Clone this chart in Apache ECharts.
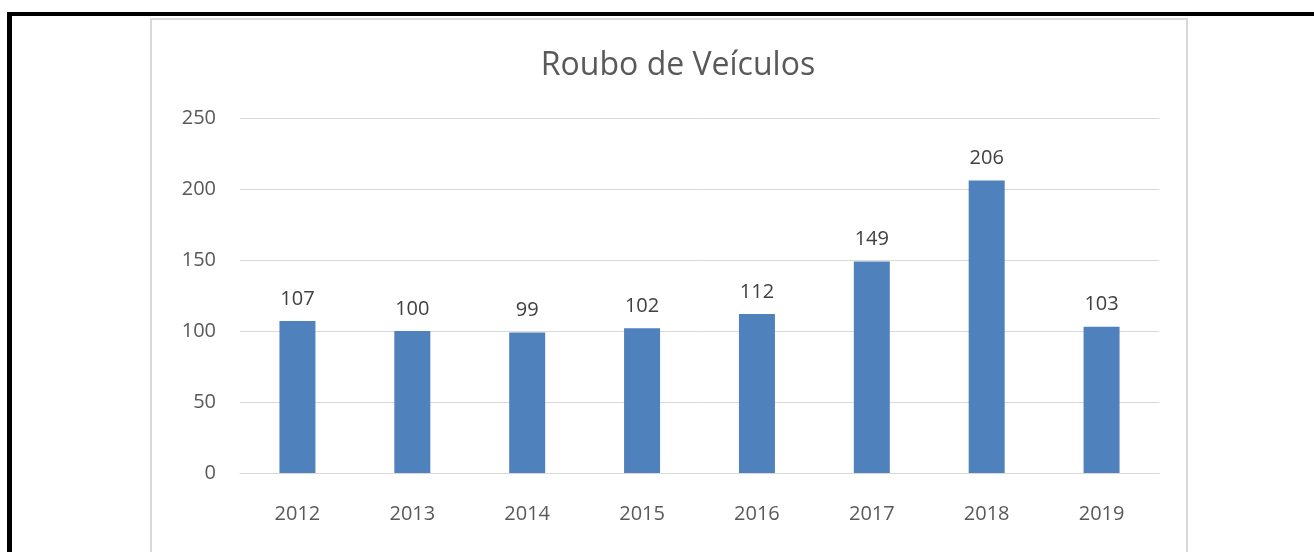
<!DOCTYPE html>
<html>
<head>
<meta charset="utf-8">
<script src="https://cdn.jsdelivr.net/npm/echarts@6/dist/echarts.min.js"></script>
<style>
    html, body {margin: 0; padding: 0; background: #fff;}
    .frame {position: absolute; left: 7px; top: 12px; width: 1320px; height: 560px;
        border-left: 5px solid #000; border-top: 4px solid #000;}
    .box {position: absolute; left: 150px; top: 18px; width: 1034px; height: 560px;
        border: 2px solid #d9d9d9;}
    #chart {position: absolute; left: 0; top: 0; width: 1314px; height: 552px;}
</style>
</head>
<body>
<div class="frame"></div>
<div class="box"></div>
<div id="chart"></div>
<script>
    const years = ['2012', '2013', '2014', '2015', '2016', '2017', '2018', '2019'];
    const roubos = [107, 100, 99, 102, 112, 149, 206, 103];
    const yTicks = [0, 50, 100, 150, 200, 250];

    const myChart = echarts.init(document.getElementById('chart'));
    myChart.setOption({
        animation: false,
        textStyle: {fontFamily: 'Open Sans'},
        title: {
            text: 'Roubo de Veículos',
            left: 673,
            textAlign: 'center',
            top: 45,
            textStyle: {fontSize: 32, fontWeight: 'normal', color: '#595959', fontFamily: 'Open Sans'}
        },
        grid: {left: 240, right: 155, top: 118, bottom: 79},
        xAxis: {
            type: 'category',
            data: years,
            axisTick: {show: false},
            axisLine: {lineStyle: {color: '#d9d9d9', width: 1}},
            axisLabel: {color: '#595959', fontSize: 20, margin: 31}
        },
        yAxis: {
            type: 'value',
            min: yTicks[0],
            max: yTicks[yTicks.length - 1],
            interval: 50,
            axisLine: {show: false},
            axisTick: {show: false},
            splitLine: {lineStyle: {color: '#d9d9d9'}},
            axisLabel: {color: '#595959', fontSize: 20, margin: 24}
        },
        series: [{
            type: 'bar',
            data: roubos,
            barWidth: 36,
            itemStyle: {color: '#4f81bd'},
            label: {show: true, position: 'top', distance: 12, color: '#404040', fontSize: 20}
        }]
    });
</script>
</body>
</html>
